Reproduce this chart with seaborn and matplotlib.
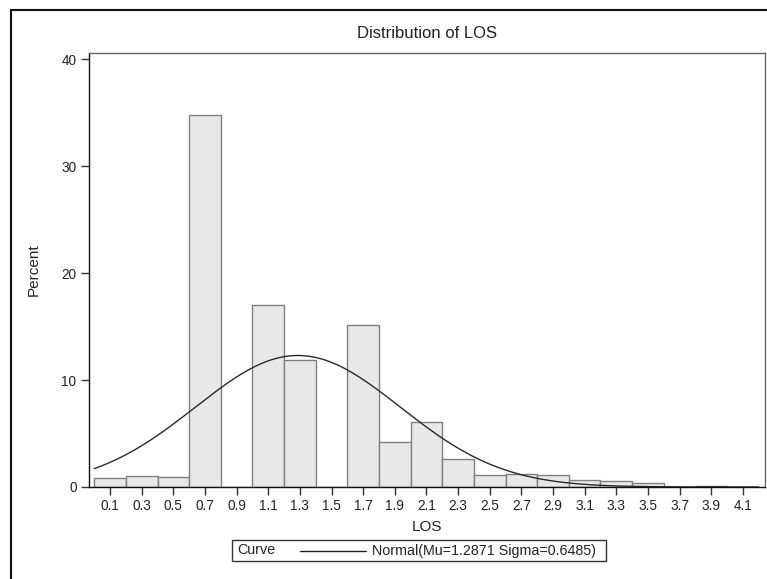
import numpy as np
import pandas as pd
import matplotlib
matplotlib.use("Agg")
import matplotlib.pyplot as plt
import seaborn as sns
from matplotlib.patches import Rectangle
from matplotlib.lines import Line2D

# ---- data ----
bin_centers = [0.1, 0.3, 0.5, 0.7, 0.9, 1.1, 1.3, 1.5, 1.7, 1.9, 2.1,
               2.3, 2.5, 2.7, 2.9, 3.1, 3.3, 3.5, 3.7, 3.9, 4.1]
percents = [0.8, 1.0, 0.9, 34.8, 0.0, 17.0, 11.9, 0.0, 15.2, 4.2, 6.1,
            2.6, 1.1, 1.2, 1.1, 0.7, 0.6, 0.35, 0.0, 0.1, 0.0]
tick_labels = ["0.1", "0.3", "0.5", "0.7", "0.9", "1.1", "1.3", "1.5", "1.7", "1.9",
               "2.1", "2.3", "2.5", "2.7", "2.9", "3.1", "3.3", "3.5", "3.7", "3.9", "4.1"]
y_ticks = [0, 10, 20, 30, 40]
mu = 1.2871
sigma = 0.6485
bin_width = 0.2

sns.set_theme(style="white")
plt.rcParams['font.family'] = ['Liberation Sans', 'DejaVu Sans']

W, H = 767, 579
fig = plt.figure(figsize=(W / 100, H / 100), dpi=100)
ax = fig.add_axes([89 / W, 1 - 487 / H, (765 - 89) / W, (487 - 53) / H])

df = pd.DataFrame({"LOS": bin_centers, "Percent": percents})
sns.histplot(data=df, x="LOS", weights="Percent", binwidth=bin_width, binrange=(0, 4.2),
             color="#E8E8E8", edgecolor="#808080", linewidth=1.0, alpha=1.0, ax=ax)

# Normal curve scaled to percent
xs = np.linspace(0, 4.2, 300)
ys = 100 * bin_width * np.exp(-0.5 * ((xs - mu) / sigma) ** 2) / (sigma * np.sqrt(2 * np.pi))
sns.lineplot(x=xs, y=ys, color="#2a2a2a", linewidth=1.0, ax=ax)

ax.set_xlim(-0.033, 4.24)
ax.set_ylim(0, 40.6)
ax.set_xticks(bin_centers)
ax.set_xticklabels(tick_labels)
ax.set_yticks(y_ticks)
ax.tick_params(axis="both", which="both", direction="out", length=6, width=1,
               color="#333333", labelsize=9.8, labelcolor="#222222", pad=3)
ax.tick_params(axis="x", bottom=True)
ax.tick_params(axis="y", left=True)

for side in ["left", "bottom"]:
    ax.spines[side].set_color("#111111")
    ax.spines[side].set_linewidth(1.0)
for side in ["top", "right"]:
    ax.spines[side].set_visible(True)
    ax.spines[side].set_color("#666666")
    ax.spines[side].set_linewidth(1.0)

ax.set_xlabel("LOS", fontsize=11, color="#222222", labelpad=5)
ax.set_ylabel("Percent", fontsize=11, color="#222222", labelpad=15)
fig.text(427 / W, 1 - 33 / H, "Distribution of LOS", ha="center", va="center",
         fontsize=12, color="#222222")

# outer border
fig.patches.append(Rectangle((11 / W, -0.1), 1.2, 1 - 10 / H + 0.1, transform=fig.transFigure,
                             fill=False, edgecolor="#111111", linewidth=1.5))

# legend box
lx0, lx1, ly0, ly1 = 232, 606, 540, 561
fig.patches.append(Rectangle((lx0 / W, 1 - ly1 / H), (lx1 - lx0) / W, (ly1 - ly0) / H,
                             transform=fig.transFigure, fill=False, edgecolor="#333333", linewidth=1.0))
ymid = 1 - (ly0 + ly1) / 2 / H
fig.text(237 / W, ymid, "Curve", ha="left", va="center", fontsize=10.3, color="#222222")
fig.lines.append(Line2D([300 / W, 366 / W], [ymid, ymid], transform=fig.transFigure,
                        color="#222222", linewidth=1.0))
fig.text(372 / W, ymid, "Normal(Mu=1.2871 Sigma=0.6485)", ha="left", va="center",
         fontsize=10.3, color="#222222")

fig.savefig("out.png", dpi=100)
